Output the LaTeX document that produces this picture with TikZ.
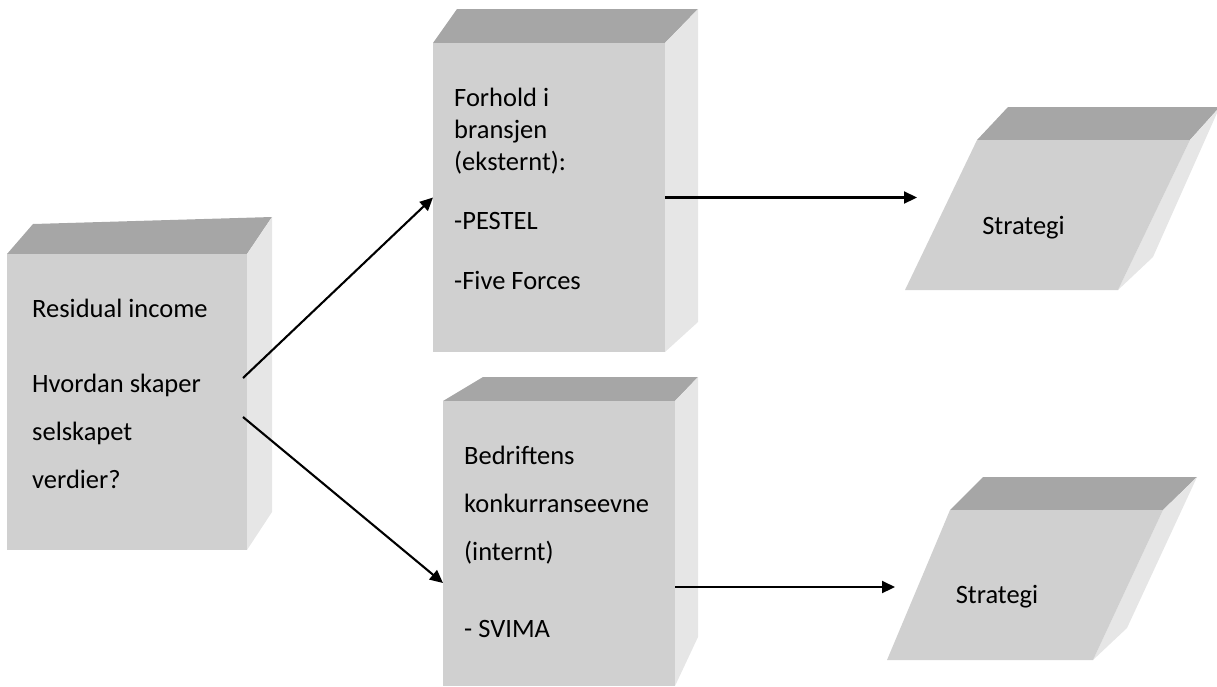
\documentclass[tikz,border=0pt]{standalone}
\usepackage{fontspec}
\setmainfont{Carlito}
\usetikzlibrary{arrows.meta}
\definecolor{frontc}{HTML}{D0D0D0}
\definecolor{topc}{HTML}{A6A6A6}
\definecolor{sidec}{HTML}{E6E6E6}
\begin{document}
\begin{tikzpicture}[x=1pt,y=-1pt,
  face/.style={fill=frontc, draw=none, inner sep=0pt, outer sep=0pt},
  topface/.style={fill=topc},
  sideface/.style={fill=sidec},
  frontpoly/.style={fill=frontc},
  txtA/.style={anchor=base west, inner sep=0pt, font=\fontsize{26.5}{48}\selectfont},
  txtB/.style={anchor=base west, inner sep=0pt, font=\fontsize{26.5}{32}\selectfont},
  stxt/.style={anchor=base, inner sep=0pt, font=\fontsize{26.5}{30}\selectfont},
  conn/.style={line width=2.1pt, -{Triangle[length=13pt,width=12pt]}}]
\useasboundingbox (0,0) rectangle (1217,686);

% left box
\fill[topface] (7,254) -- (33,224) -- (272,217) -- (247,254) -- cycle;
\fill[sideface] (247,254) -- (272,217) -- (272,512) -- (247,550) -- cycle;
\node[face, minimum width=240pt, minimum height=296pt] (res) at (127,402) {};
\node[txtA] (restext) at (32,317) {\vtop{\hbox{Residual income}\vskip27pt\hbox{Hvordan skaper}\hbox{selskapet}\hbox{verdier?}}};

% upper middle box
\fill[topface] (433,43) -- (457,9) -- (698,9) -- (665,43) -- cycle;
\fill[sideface] (665,43) -- (698,9) -- (698,322) -- (665,352) -- cycle;
\node[face, minimum width=232pt, minimum height=309pt] (fh) at (549,197.5) {};
\node[txtB] (fhtext) at (454,106) {\vtop{\hbox{Forhold i}\hbox{bransjen}\hbox{(eksternt):}\vskip27pt\hbox{-PESTEL}\vskip28pt\hbox{-Five Forces}}};

% lower middle box
\fill[topface] (443,401) -- (483,377) -- (698,377) -- (675,401) -- cycle;
\fill[sideface] (675,401) -- (698,377) -- (698,637) -- (675,686) -- cycle;
\node[face, minimum width=232pt, minimum height=285pt] (bk) at (559,543.5) {};
\node[txtA] (bktext) at (464,464) {\vtop{\hbox{Bedriftens}\hbox{konkurranseevne}\hbox{(internt)}\vskip29pt\hbox{- SVIMA}}};

% upper strategi
\fill[topface] (977,140) -- (1008,107) -- (1217,107) -- (1217,110) -- (1190,140) -- cycle;
\fill[sideface] (1190,140) -- (1217,110) -- (1217,113) -- (1153,257) -- (1118,290) -- cycle;
\fill[frontpoly] (977,140) -- (1190,140) -- (1118,290) -- (905,290) -- cycle;
\node[stxt] (s1) at (1023.5,234) {Strategi};

% lower strategi
\fill[topface] (950,510) -- (983,477) -- (1197,477) -- (1163,510) -- cycle;
\fill[sideface] (1163,510) -- (1197,477) -- (1127,628) -- (1093,660) -- cycle;
\fill[frontpoly] (950,510) -- (1163,510) -- (1093,660) -- (887,660) -- cycle;
\node[stxt] (s2) at (997,603) {Strategi};

% connectors
\draw[conn] ([xshift=-4pt,yshift=24pt]res.east) -- (fh.west);
\draw[conn] ([xshift=-4pt,yshift=-15pt]res.east) -- ([yshift=-39.5pt]bk.west);
\draw[conn] (fh.east) -- ([xshift=-106.5pt,yshift=36.5pt]s1.base);
\draw[conn] ([yshift=-43.5pt]bk.east) -- ([xshift=-102pt,yshift=16pt]s2.base);
\end{tikzpicture}
\end{document}
